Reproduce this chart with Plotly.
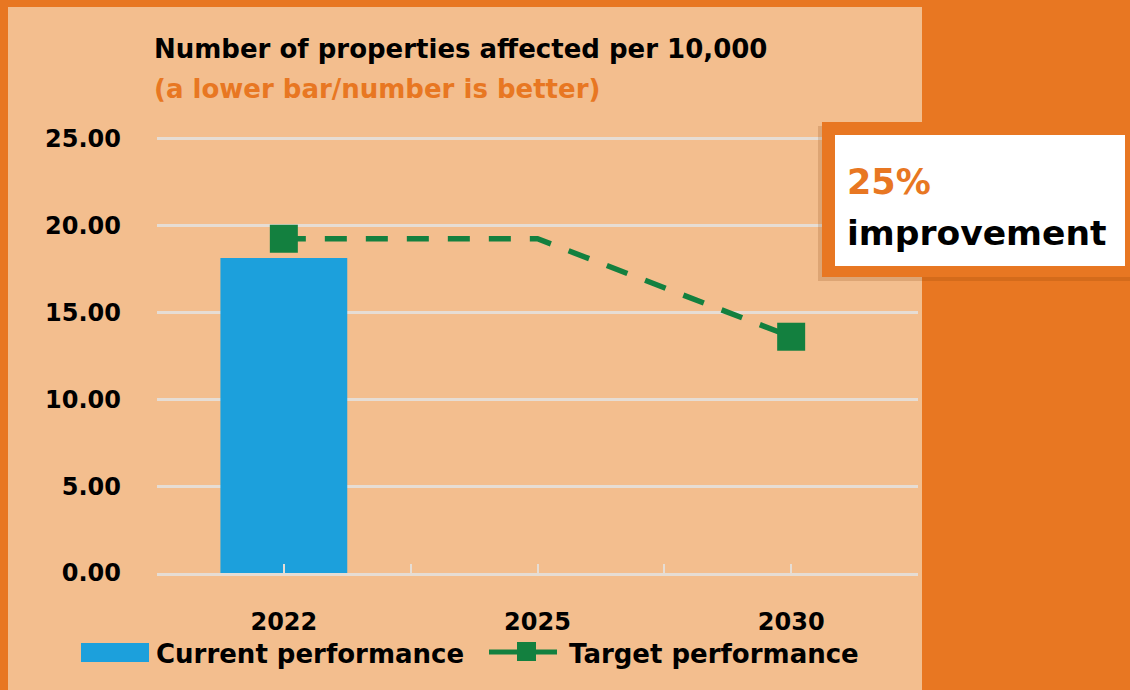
import plotly.graph_objects as go

# ---- data ----
years = ["2022", "2025", "2030"]
current_years = ["2022"]
current_values = [18.13]
target_values = [19.24, 19.24, 13.60]
target_marked = [True, False, True]
y_ticks = [0, 5, 10, 15, 20, 25]
title_text = "Number of properties affected per 10,000"
subtitle_text = "(a lower bar/number is better)"
callout_pct = "25%"
callout_text = "improvement"
series_names = ["Current performance", "Target performance"]

# ---- style ----
ORANGE = "#E87722"
PEACH = "#F3BE8E"
BLUE = "#1CA0DC"
GREEN = "#13803F"
GRID = "#E6DDD4"
FONT = "DejaVu Sans"

W, H = 1130, 690
L, R, T, B = 157, 212, 130, 117
PW, PH = W - L - R, H - T - B


def px(x):
    return (x - L) / PW


def py(y):
    return (H - B - y) / PH


xpos = list(range(len(years)))
cur_x = [years.index(y) for y in current_years]

fig = go.Figure()
fig.add_trace(go.Bar(x=cur_x, y=current_values, width=0.5, marker_color=BLUE,
                     marker_line_width=0, name=series_names[0], showlegend=False))
fig.add_trace(go.Scatter(x=xpos, y=target_values, mode="lines+markers",
                         line=dict(color=GREEN, width=5.5, dash="22px,19px"),
                         marker=dict(symbol="square", size=[28 if m else 0 for m in target_marked],
                                     color=GREEN, opacity=1, line_width=0),
                         name=series_names[1], showlegend=False))

shapes = [
    # peach panel
    dict(type="rect", xref="paper", yref="paper", x0=px(8), x1=px(922), y0=py(720), y1=py(7),
         fillcolor=PEACH, line_width=0, layer="below"),
    # callout shadow
    dict(type="rect", xref="paper", yref="paper", x0=px(818), x1=px(1140), y0=py(281), y1=py(126),
         fillcolor="rgba(120,55,0,0.18)", line_width=0, layer="above"),
    # callout box
    dict(type="rect", xref="paper", yref="paper", x0=px(822), x1=px(1140), y0=py(277), y1=py(122),
         fillcolor=ORANGE, line_width=0, layer="above"),
    dict(type="rect", xref="paper", yref="paper", x0=px(835), x1=px(1125), y0=py(266), y1=py(135),
         fillcolor="white", line_width=0, layer="above"),
    # legend: bar swatch
    dict(type="rect", xref="paper", yref="paper", x0=px(81), x1=px(149), y0=py(662), y1=py(643),
         fillcolor=BLUE, line_width=0, layer="above"),
    # legend: line swatch
    dict(type="line", xref="paper", yref="paper", x0=px(489), x1=px(557), y0=py(652), y1=py(652),
         line=dict(color=GREEN, width=5), layer="above"),
    dict(type="rect", xref="paper", yref="paper", x0=px(517), x1=px(536), y0=py(661), y1=py(642),
         fillcolor=GREEN, line_width=0, layer="above"),
]


def ann(text, x, y, size, color):
    return dict(text=text, x=px(x), y=py(y), xref="paper", yref="paper", xanchor="left",
                yanchor="middle", showarrow=False,
                font=dict(family=FONT, size=size, color=color, weight="bold"))


annotations = [
    ann(title_text, 152, 49, 26, "black"),
    ann(subtitle_text, 152, 89, 26, ORANGE),
    ann(callout_pct, 845, 182, 35, ORANGE),
    ann(callout_text, 845, 233, 34.5, "black"),
    ann(series_names[0], 154, 654, 26, "black"),
    ann(series_names[1], 567, 654, 26, "black"),
]

tickvals = [i / 2 - 0.5 for i in range(2 * len(years) + 1)]
ticktext = [years[int(v)] if v >= 0 and float(v).is_integer() and int(v) < len(years) else ""
            for v in tickvals]

fig.update_layout(
    width=W, height=H,
    margin=dict(l=L, r=R, t=T, b=B, pad=0),
    paper_bgcolor=ORANGE,
    plot_bgcolor="rgba(0,0,0,0)",
    shapes=shapes,
    annotations=annotations,
    showlegend=False,
    font=dict(family=FONT, color="black"),
    xaxis=dict(range=[-0.5, 2.5], tickvals=tickvals, ticktext=ticktext,
               showgrid=False, zeroline=False, showline=True, linecolor=GRID, linewidth=3,
               ticks="inside", ticklen=9, tickwidth=2, tickcolor=GRID,
               tickfont=dict(family=FONT, size=24, color="black", weight="bold"),
               ticklabelstandoff=25, fixedrange=True),
    yaxis=dict(range=[0, 25.5], tickvals=y_ticks, tickformat=".2f",
               showgrid=True, gridcolor=GRID, gridwidth=3, zeroline=False, showline=False,
               ticks="", tickfont=dict(family=FONT, size=24, color="black", weight="bold"),
               ticklabelstandoff=35, fixedrange=True),
)

fig.write_html("out.html", config={"displayModeBar": False},
               post_script="document.body.style.margin='0';document.body.style.overflow='hidden';")
